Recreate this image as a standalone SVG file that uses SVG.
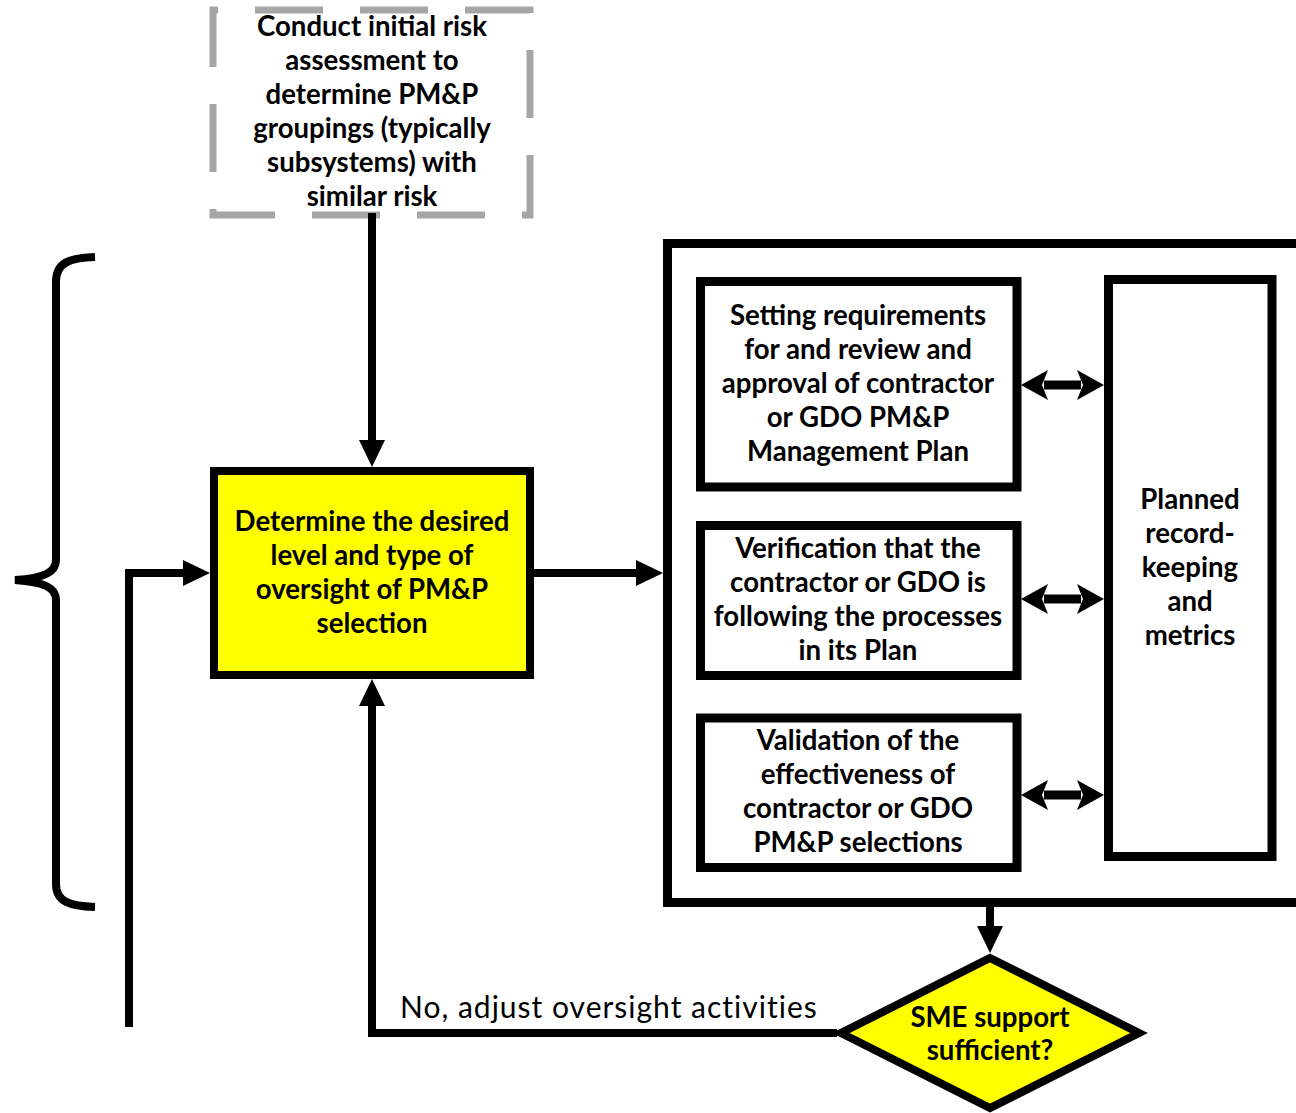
<svg xmlns="http://www.w3.org/2000/svg" width="1296" height="1113" viewBox="0 0 1296 1113">
  <style>
    .box { fill: #ffffff; stroke: #000000; stroke-width: 9; }
    .hi { fill: #ffff00; stroke: #000000; stroke-width: 8; }
    .dash { fill: #ffffff; stroke: #a6a6a6; stroke-width: 7; stroke-dasharray: 68 37; stroke-dashoffset: 63; }
    .lbl { font-family: Lato, "Liberation Sans", sans-serif; font-weight: 700; font-size: 27.6px; fill: #000000; text-anchor: middle; }
    .note { font-family: Lato, "Liberation Sans", sans-serif; font-weight: 400; font-size: 30px; letter-spacing: 1px; fill: #000000; }
    .wire { fill: none; stroke: #000000; stroke-width: 8; stroke-linejoin: miter; }
    .dbl { fill: none; stroke: #000000; stroke-width: 9; }
  </style>
  <defs>
    <marker id="head" markerUnits="userSpaceOnUse" viewBox="0 -14 28 28" refX="0" refY="0" markerWidth="28" markerHeight="28" orient="auto">
      <path d="M0,-13 L27,0 L0,13 Z" fill="#000000"/>
    </marker>
    <marker id="stealth" markerUnits="userSpaceOnUse" viewBox="-2 -16 30 32" refX="4" refY="0" markerWidth="30" markerHeight="32" orient="auto-start-reverse">
      <path d="M0,-15 L27,0 L0,15 L6,0 Z" fill="#000000"/>
    </marker>
  </defs>

  <!-- bracket on the left -->
  <g id="bracket">
    <path class="wire" d="M95,257 C70,258 56,262 56,282 L56,560 C56,572 45,578 15,580 C45,582 56,588 56,600 L56,884 C56,902 70,906 95,907"/>
  </g>

  <!-- risk assessment (dashed) -->
  <g id="risk-assessment">
    <rect class="dash" x="213" y="10" width="317" height="205"/>
    <text class="lbl" x="372" y="36">Conduct initial risk</text>
    <text class="lbl" x="372" y="70">assessment to</text>
    <text class="lbl" x="372" y="104">determine PM&amp;P</text>
    <text class="lbl" x="372" y="138">groupings (typically</text>
    <text class="lbl" x="372" y="172">subsystems) with</text>
    <text class="lbl" x="372" y="206">similar risk</text>
  </g>

  <!-- oversight decision -->
  <g id="oversight">
    <rect class="hi" x="214" y="471" width="316" height="204"/>
    <text class="lbl" x="372" y="531">Determine the desired</text>
    <text class="lbl" x="372" y="565">level and type of</text>
    <text class="lbl" x="372" y="599">oversight of PM&amp;P</text>
    <text class="lbl" x="372" y="633">selection</text>
  </g>

  <!-- activities container -->
  <g id="activities">
    <rect class="box" x="667.5" y="243.5" width="700" height="659"/>
  </g>

  <g id="management-plan">
    <rect class="box" x="700.5" y="281.5" width="316.5" height="205.5"/>
    <text class="lbl" x="858" y="325">Setting requirements</text>
    <text class="lbl" x="858" y="359">for and review and</text>
    <text class="lbl" x="858" y="393">approval of contractor</text>
    <text class="lbl" x="858" y="427">or GDO PM&amp;P</text>
    <text class="lbl" x="858" y="461">Management Plan</text>
  </g>

  <g id="verification">
    <rect class="box" x="700.5" y="525.5" width="316.5" height="150"/>
    <text class="lbl" x="858" y="558">Verification that the</text>
    <text class="lbl" x="858" y="592">contractor or GDO is</text>
    <text class="lbl" x="858" y="626">following the processes</text>
    <text class="lbl" x="858" y="660">in its Plan</text>
  </g>

  <g id="validation">
    <rect class="box" x="700.5" y="718" width="316.5" height="149.5"/>
    <text class="lbl" x="858" y="750">Validation of the</text>
    <text class="lbl" x="858" y="784">effectiveness of</text>
    <text class="lbl" x="858" y="818">contractor or GDO</text>
    <text class="lbl" x="858" y="852">PM&amp;P selections</text>
  </g>

  <g id="records">
    <rect class="box" x="1108.5" y="279.5" width="163.5" height="577"/>
    <text class="lbl" x="1190" y="509">Planned</text>
    <text class="lbl" x="1190" y="543">record-</text>
    <text class="lbl" x="1190" y="577">keeping</text>
    <text class="lbl" x="1190" y="611">and</text>
    <text class="lbl" x="1190" y="645">metrics</text>
  </g>

  <g id="sme-check">
    <polygon class="hi" points="990,958 1139,1033 990,1108 841,1033"/>
    <text class="lbl" x="990" y="1027">SME support</text>
    <text class="lbl" x="990" y="1060">sufficient?</text>
  </g>

  <!-- connectors -->
  <g id="connectors">
    <line class="wire" x1="372" y1="213" x2="372" y2="440" marker-end="url(#head)"/>
    <polyline class="wire" points="129,1027 129,573 183,573" marker-end="url(#head)"/>
    <line class="wire" x1="534" y1="573" x2="636" y2="573" marker-end="url(#head)"/>
    <line class="wire" x1="990" y1="907" x2="990" y2="926" marker-end="url(#head)"/>
    <polyline class="wire" points="837,1033 372,1033 372,706" marker-end="url(#head)"/>
    <line class="dbl" x1="1044" y1="385" x2="1081" y2="385" marker-start="url(#stealth)" marker-end="url(#stealth)"/>
    <line class="dbl" x1="1044" y1="599" x2="1081" y2="599" marker-start="url(#stealth)" marker-end="url(#stealth)"/>
    <line class="dbl" x1="1044" y1="795" x2="1081" y2="795" marker-start="url(#stealth)" marker-end="url(#stealth)"/>
    <text class="note" x="400" y="1018">No, adjust oversight activities</text>
  </g>
</svg>
